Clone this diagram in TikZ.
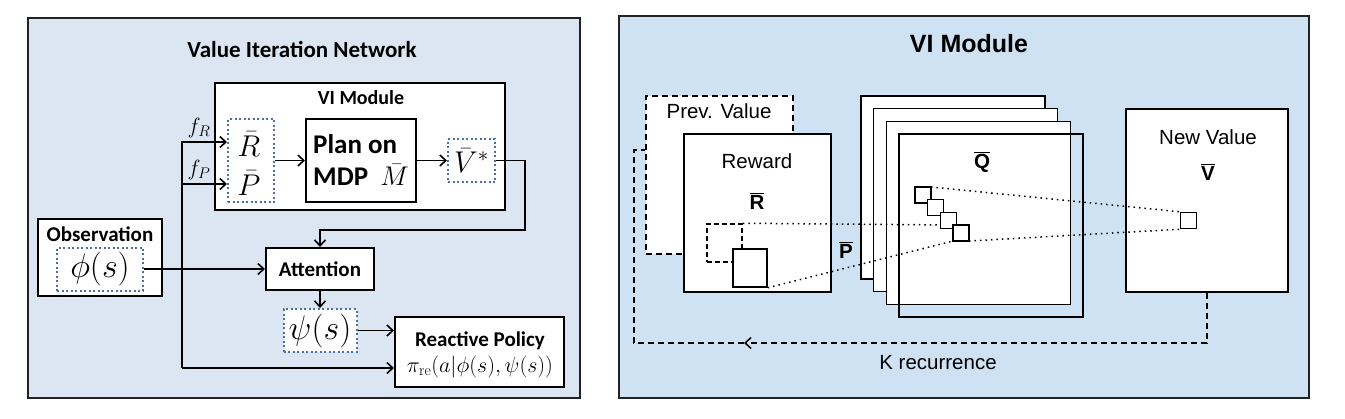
\documentclass[tikz,border=0pt]{standalone}
\usepackage{fix-cm}
\usepackage{fontspec}
\newfontfamily\calfont{Carlito}
\newfontfamily\arialfont{Liberation Sans}
\usetikzlibrary{arrows.meta}
\definecolor{leftbg}{HTML}{DCE6F2}
\definecolor{rightbg}{HTML}{CFE2F3}
\definecolor{dotblue}{HTML}{4A6FA5}
\definecolor{framegray}{HTML}{222222}
\tikzset{
  panel/.style={draw=framegray,line width=2pt},
  ltitle/.style={font=\calfont\bfseries\fontsize{21}{24}\selectfont,inner sep=0},
  blk/.style={draw=black,line width=2pt,fill=white,inner sep=0},
  dotbox/.style={draw=dotblue,line width=2pt,dash pattern=on 2pt off 2.5pt,fill=white,inner sep=0},
  mathtxt/.style={font=\fontsize{30}{32}\selectfont,inner sep=0},
  link/.style={line width=1.6pt},
  rbox/.style={draw=black,line width=1.5pt,fill=white,inner sep=0},
  rtxt/.style={font=\arialfont\fontsize{20.5}{22}\selectfont,inner sep=0},
  rbar/.style={font=\arialfont\bfseries\fontsize{20.5}{22}\selectfont,inner sep=0},
  kloop/.style={line width=1.5pt,dash pattern=on 6pt off 4pt},
  fieldline/.style={line width=1.5pt,dash pattern=on 1.5pt off 4pt}
}

\begin{document}
\begin{tikzpicture}[x=1pt,y=-1pt,>={Straight Barb[length=6pt,width=11pt]}]
	\useasboundingbox (0,0) rectangle (1345,418);
	% ---------- left panel ----------
	\draw[panel,fill=leftbg] (28,18) rectangle (580,398);
	\node[ltitle,font=\calfont\bfseries\fontsize{23}{26}\selectfont] (vintitle) at (302,49) {Value Iteration Network};
	\node[blk,minimum width=290,minimum height=127] (vimod) at (360,146.5) {};
	\node[ltitle,font=\calfont\bfseries\fontsize{20}{22}\selectfont] (vimodtitle) at (361,98) {VI Module};
	\node[dotbox,minimum width=46,minimum height=83] (rpbox) at (251,160.5) {};
	\node[mathtxt] (Rbar) at (249,144) {$\bar{R}$};
	\node[mathtxt] (Pbar) at (249,183) {$\bar{P}$};
	\node[blk,minimum width=110,minimum height=83,align=left,font=\calfont\bfseries\fontsize{27}{32}\selectfont] (plan) at (361,160.5) {Plan on\\MDP~ $\bar{M}$};
	\node[dotbox,minimum width=47,minimum height=43,mathtxt] (vstar) at (471.5,160.5) {$\bar{V}^{*}$};
	\coordinate (turn) at (525,230); %corner above attention
	% observation
	\node[blk,minimum width=124,minimum height=77] (obs) at (100,257.5) {};
	\node[ltitle] (obstitle) at (100,234) {Observation};
	\node[dotbox,minimum width=86,minimum height=43,font=\fontsize{34}{36}\selectfont] (phi) at (100,269) {$\phi(s)$};
	\node[blk,minimum width=108,minimum height=42,ltitle] (attn) at (320,269) {Attention};
	\node[dotbox,minimum width=73,minimum height=43,font=\fontsize{34}{36}\selectfont] (psi) at (320,330.5) {$\psi(s)$};
	\node[blk,minimum width=169,minimum height=70] (react) at (479.5,352) {};
	\node[ltitle] (reacttitle) at (480,341) {Reactive Policy};
	\node[inner sep=0,font=\fontsize{22}{24}\selectfont] (pire) at (480,367) {$\pi_{\mathrm{re}}(a|\phi(s),\psi(s))$};
	% bus
	\coordinate (busR) at (182,142);
	\coordinate (busP) at (182,184);
	\coordinate (busB) at (182,368);
	\node[inner sep=0,font=\fontsize{22}{24}\selectfont] (fR) at (199,128) {$f_R$};
	\node[inner sep=0,font=\fontsize{22}{24}\selectfont] (fP) at (199,170) {$f_P$};
	\draw[link,->] (busB) -- (busR) -- (busR -| rpbox.west);
	\draw[link,->] (busP) -- (busP -| rpbox.west);
	\draw[link,->] (busB) -- (busB -| react.west);
	\draw[link,->] (rpbox) -- (plan);
	\draw[link,->] (plan) -- (vstar);
	\draw[link,->] (vstar.east) -| (turn) -| (attn.north);
	\draw[link,->] (phi) -- (attn);
	\draw[link,->] (attn) -- (psi);
	\draw[link,->] (psi.east) -- (psi.east -| react.west);
	% ---------- right panel ----------
	\draw[panel,fill=rightbg] (619,16) rectangle (1309,398);
	\node[inner sep=0,font=\arialfont\bfseries\fontsize{25}{28}\selectfont] (vititle) at (969,44) {VI Module};
	\node[rbox,dash pattern=on 6pt off 4pt,minimum width=147,minimum height=158] (prev) at (719.5,175) {};
	\node[rtxt] (prevtxt) at (719,111) {Prev. Value};
	\node[rbox,minimum width=147,minimum height=158] (reward) at (757.5,213) {};
	\node[rtxt] (rewardtxt) at (757,161) {Reward};
	\node[rbar] (Rlbl) at (757,201) {$\overline{\mbox{R}}$};
	\node[rbox,dash pattern=on 5pt off 3pt,minimum width=35,minimum height=38] (rdash) at (724.5,243) {};
	\node[rbox,minimum width=34,minimum height=38] (rsol) at (750,268) {};
	\node[rbar] (Plbl) at (846,250) {$\overline{\mbox{P}}$};
	% Q stack
	\node[rbox,minimum width=184,minimum height=183] (q1) at (953,187.5) {};
	\node[rbox,minimum width=184,minimum height=183] (q2) at (965.7,200.2) {};
	\node[rbox,minimum width=184,minimum height=183] (q3) at (978.3,212.8) {};
	\node[rbox,fill=none,minimum width=184,minimum height=183] (q4) at (991,225.5) {};
	\node[rbar] (Qlbl) at (982,162) {$\overline{\mbox{Q}}$};
	% new value
	\node[rbox,minimum width=162,minimum height=183] (newval) at (1207,200.5) {};
	\node[rtxt] (newvaltxt) at (1208,137) {New Value};
	\node[rbar] (Vlbl) at (1208,172) {$\overline{\mbox{V}}$};
	\node[rbox,minimum size=16] (vsq) at (1188.5,220.5) {};
	% receptive fields
	\coordinate (s1) at (923,195);
	\coordinate (s4) at (961,233);
	\draw[fieldline] (rdash.north east) -- ([shift={(-8,-8)}]s4);
	\draw[fieldline] (rsol.south east) -- ([shift={(-8,8)}]s4);
	\draw[fieldline] ([shift={(8,-8)}]s1) -- (vsq.north west);
	\draw[fieldline] ([shift={(8,8)}]s4) -- (vsq.south west);
	\node[rbox,minimum size=16] (sq1) at (s1) {};
	\node[rbox,minimum size=16] (sq2) at (935.7,207.7) {};
	\node[rbox,minimum size=16] (sq3) at (948.3,220.3) {};
	\node[rbox,minimum size=16] (sq4) at (s4) {};
	% K recurrence
	\coordinate (kmid) at (744,343);
	\coordinate (ktop) at (634,150);
	\draw[kloop,->] (newval.south) |- (kmid);
	\draw[kloop] (kmid) -| (ktop) -- (ktop -| prev.west);
	\node[rtxt] (ktxt) at (938,363) {K recurrence};
\end{tikzpicture}
\end{document}
